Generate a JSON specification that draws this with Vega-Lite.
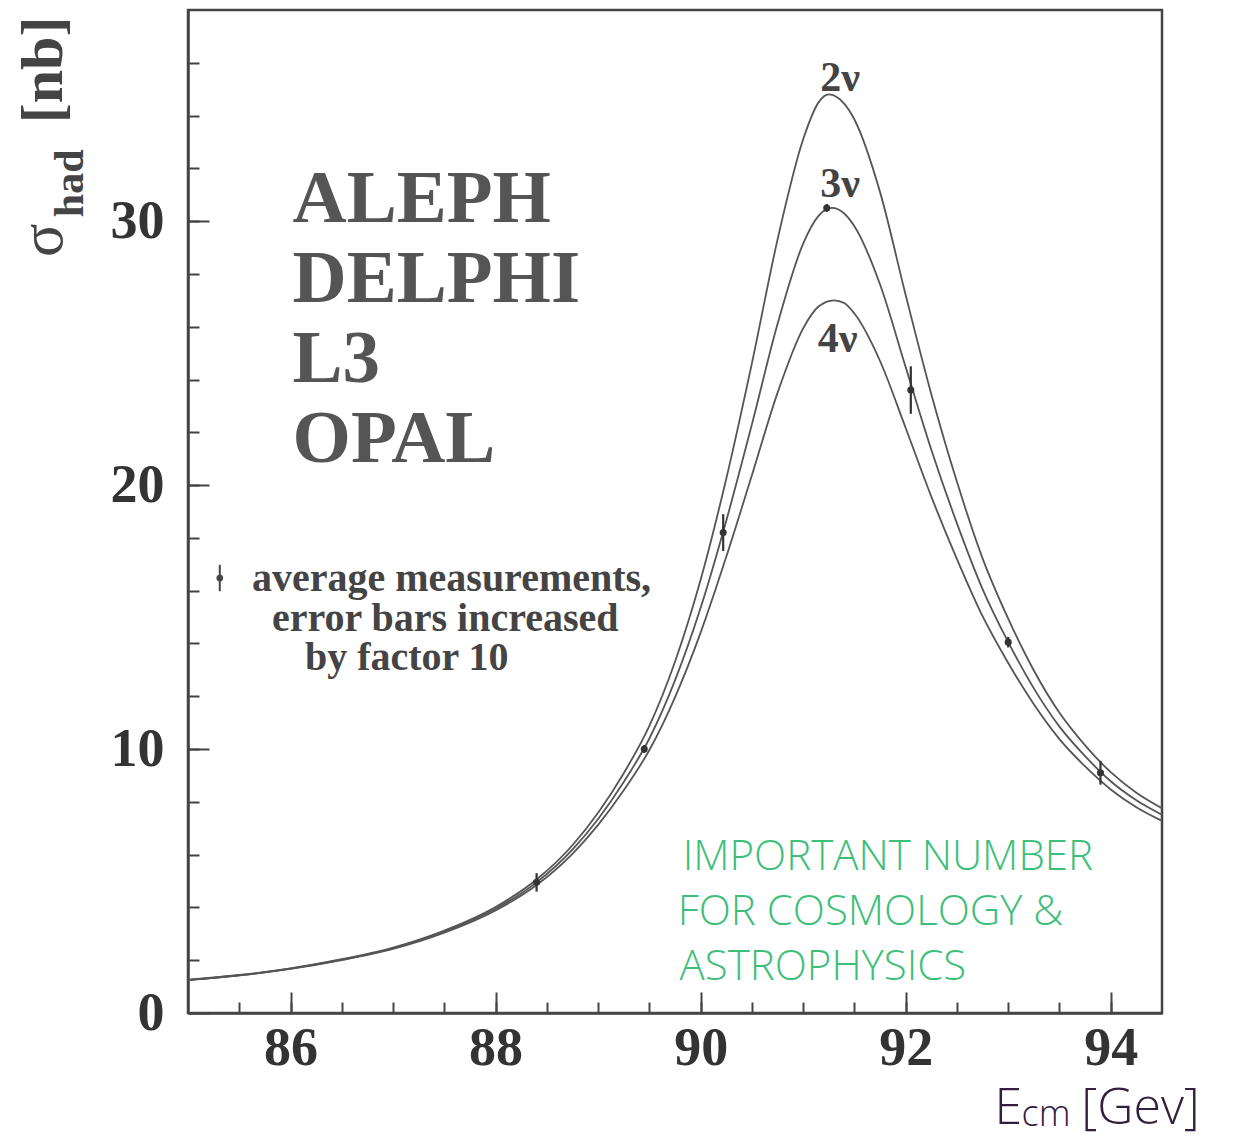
{
  "$schema": "https://vega.github.io/schema/vega-lite/v6.json",
  "width": 974,
  "height": 1003,
  "autosize": {"type": "none"},
  "padding": {"left": 188, "top": 10, "right": 86, "bottom": 126},
  "background": "white",
  "config": {
    "view": {"stroke": "#444", "strokeWidth": 2.5},
    "axis": {"grid": false, "title": null}
  },
  "datasets": {
    "curves": [
      {"E": 85, "s": 1.257, "n": "2ν"}, {"E": 85.5, "s": 1.439, "n": "2ν"}, {"E": 86, "s": 1.692, "n": "2ν"}, {"E": 86.5, "s": 2.037, "n": "2ν"},
      {"E": 87, "s": 2.476, "n": "2ν"}, {"E": 87.5, "s": 3.121, "n": "2ν"}, {"E": 88, "s": 4.017, "n": "2ν"}, {"E": 88.4, "s": 5.056, "n": "2ν"},
      {"E": 88.75, "s": 6.356, "n": "2ν"}, {"E": 89, "s": 7.585, "n": "2ν"}, {"E": 89.25, "s": 9.086, "n": "2ν"}, {"E": 89.5, "s": 10.877, "n": "2ν"},
      {"E": 89.75, "s": 13.307, "n": "2ν"}, {"E": 90, "s": 16.412, "n": "2ν"}, {"E": 90.25, "s": 20.242, "n": "2ν"}, {"E": 90.5, "s": 24.614, "n": "2ν"},
      {"E": 90.75, "s": 29.3, "n": "2ν"}, {"E": 91, "s": 33.1, "n": "2ν"}, {"E": 91.15, "s": 34.5, "n": "2ν"}, {"E": 91.25, "s": 34.8, "n": "2ν"},
      {"E": 91.4, "s": 34.45, "n": "2ν"}, {"E": 91.5, "s": 33.85, "n": "2ν"}, {"E": 91.75, "s": 31.1, "n": "2ν"}, {"E": 92, "s": 27.2, "n": "2ν"},
      {"E": 92.25, "s": 23.445, "n": "2ν"}, {"E": 92.5, "s": 20.124, "n": "2ν"}, {"E": 92.75, "s": 17.224, "n": "2ν"}, {"E": 93, "s": 14.938, "n": "2ν"},
      {"E": 93.25, "s": 12.978, "n": "2ν"}, {"E": 93.5, "s": 11.374, "n": "2ν"}, {"E": 93.75, "s": 10.142, "n": "2ν"}, {"E": 94, "s": 9.123, "n": "2ν"},
      {"E": 94.25, "s": 8.344, "n": "2ν"}, {"E": 94.5, "s": 7.756, "n": "2ν"},

      {"E": 85, "s": 1.25, "n": "3ν"}, {"E": 85.5, "s": 1.43, "n": "3ν"}, {"E": 86, "s": 1.68, "n": "3ν"}, {"E": 86.5, "s": 2.02, "n": "3ν"},
      {"E": 87, "s": 2.45, "n": "3ν"}, {"E": 87.5, "s": 3.08, "n": "3ν"}, {"E": 88, "s": 3.95, "n": "3ν"}, {"E": 88.4, "s": 4.95, "n": "3ν"},
      {"E": 88.75, "s": 6.19, "n": "3ν"}, {"E": 89, "s": 7.35, "n": "3ν"}, {"E": 89.25, "s": 8.75, "n": "3ν"}, {"E": 89.5, "s": 10.4, "n": "3ν"},
      {"E": 89.75, "s": 12.6, "n": "3ν"}, {"E": 90, "s": 15.35, "n": "3ν"}, {"E": 90.25, "s": 18.65, "n": "3ν"}, {"E": 90.5, "s": 22.3, "n": "3ν"},
      {"E": 90.75, "s": 26.1, "n": "3ν"}, {"E": 91, "s": 29.15, "n": "3ν"}, {"E": 91.15, "s": 30.2, "n": "3ν"}, {"E": 91.28, "s": 30.5, "n": "3ν"},
      {"E": 91.4, "s": 30.29, "n": "3ν"}, {"E": 91.5, "s": 29.81, "n": "3ν"}, {"E": 91.75, "s": 27.6, "n": "3ν"}, {"E": 92, "s": 24.47, "n": "3ν"},
      {"E": 92.25, "s": 21.34, "n": "3ν"}, {"E": 92.5, "s": 18.55, "n": "3ν"}, {"E": 92.75, "s": 16.06, "n": "3ν"}, {"E": 93, "s": 14.05, "n": "3ν"},
      {"E": 93.25, "s": 12.3, "n": "3ν"}, {"E": 93.5, "s": 10.85, "n": "3ν"}, {"E": 93.75, "s": 9.73, "n": "3ν"}, {"E": 94, "s": 8.78, "n": "3ν"},
      {"E": 94.25, "s": 8.06, "n": "3ν"}, {"E": 94.5, "s": 7.51, "n": "3ν"},

      {"E": 85, "s": 1.244, "n": "4ν"}, {"E": 85.5, "s": 1.422, "n": "4ν"}, {"E": 86, "s": 1.669, "n": "4ν"}, {"E": 86.5, "s": 2.003, "n": "4ν"},
      {"E": 87, "s": 2.425, "n": "4ν"}, {"E": 87.5, "s": 3.041, "n": "4ν"}, {"E": 88, "s": 3.886, "n": "4ν"}, {"E": 88.4, "s": 4.849, "n": "4ν"},
      {"E": 88.75, "s": 6.033, "n": "4ν"}, {"E": 89, "s": 7.128, "n": "4ν"}, {"E": 89.25, "s": 8.438, "n": "4ν"}, {"E": 89.5, "s": 9.962, "n": "4ν"},
      {"E": 89.75, "s": 11.962, "n": "4ν"}, {"E": 90, "s": 14.412, "n": "4ν"}, {"E": 90.25, "s": 17.282, "n": "4ν"}, {"E": 90.5, "s": 20.371, "n": "4ν"},
      {"E": 90.75, "s": 23.495, "n": "4ν"}, {"E": 91, "s": 25.937, "n": "4ν"}, {"E": 91.15, "s": 26.765, "n": "4ν"}, {"E": 91.3, "s": 27.0, "n": "4ν"},
      {"E": 91.4, "s": 26.9, "n": "4ν"}, {"E": 91.5, "s": 26.5, "n": "4ν"}, {"E": 91.75, "s": 24.702, "n": "4ν"}, {"E": 92, "s": 22.163, "n": "4ν"},
      {"E": 92.25, "s": 19.564, "n": "4ν"}, {"E": 92.5, "s": 17.196, "n": "4ν"}, {"E": 92.75, "s": 15.034, "n": "4ν"}, {"E": 93, "s": 13.263, "n": "4ν"},
      {"E": 93.25, "s": 11.695, "n": "4ν"}, {"E": 93.5, "s": 10.376, "n": "4ν"}, {"E": 93.75, "s": 9.341, "n": "4ν"}, {"E": 94, "s": 8.47, "n": "4ν"},
      {"E": 94.25, "s": 7.795, "n": "4ν"}, {"E": 94.5, "s": 7.279, "n": "4ν"}
    ],
    "meas": [
      {"E": 88.4, "s": 4.95, "lo": 4.6, "hi": 5.3},
      {"E": 89.45, "s": 10.0, "lo": 9.85, "hi": 10.15},
      {"E": 90.22, "s": 18.2, "lo": 17.5, "hi": 18.9},
      {"E": 91.23, "s": 30.5, "lo": 30.35, "hi": 30.65},
      {"E": 92.05, "s": 23.6, "lo": 22.7, "hi": 24.5},
      {"E": 93.0, "s": 14.05, "lo": 13.85, "hi": 14.25},
      {"E": 93.9, "s": 9.1, "lo": 8.65, "hi": 9.55}
    ],
    "legendsym": [{"E": 85.31, "s": 16.48, "lo": 15.98, "hi": 16.98}],
    "expts": [
      {"E": 86.02, "s": 29.96, "t": "ALEPH"},
      {"E": 86.02, "s": 26.93, "t": "DELPHI"},
      {"E": 86.02, "s": 23.9, "t": "L3"},
      {"E": 86.02, "s": 20.87, "t": "OPAL"}
    ],
    "legendtext": [
      {"E": 85.624, "s": 15.98, "t": "average measurements,"},
      {"E": 85.819, "s": 14.47, "t": "error bars increased"},
      {"E": 86.14, "s": 13.0, "t": "by factor 10"}
    ],
    "nulabels": [
      {"E": 91.36, "s": 34.95, "t": "2ν"},
      {"E": 91.36, "s": 30.9, "t": "3ν"},
      {"E": 91.335, "s": 25.04, "t": "4ν"}
    ],
    "note": [
      {"E": 89.825, "s": 5.42, "t": "IMPORTANT NUMBER"},
      {"E": 89.776, "s": 3.33, "t": "FOR COSMOLOGY &"},
      {"E": 89.795, "s": 1.25, "t": "ASTROPHYSICS"}
    ],
    "ytitle_sigma": [{"E": 83.772, "s": 28.64, "t": "σ"}],
    "ytitle_unit": [{"E": 83.772, "s": 33.71, "t": "[nb]"}],
    "ytitle_sub": [{"E": 83.977, "s": 30.15, "t": "had"}],
    "xtitle_e": [{"E": 92.866, "s": -4.2, "t": "E"}],
    "xtitle_unit": [{"E": 93.713, "s": -4.2, "t": "[Gev]"}],
    "xtitle_sub": [{"E": 93.13, "s": -4.3, "t": "cm"}]
  },
  "layer": [
    {
      "data": {"name": "curves"},
      "mark": {"type": "line", "interpolate": "monotone", "color": "#555", "strokeWidth": 1.8},
      "encoding": {
        "x": {"field": "E", "type": "quantitative", "scale": {"domain": [85, 94.5], "nice": false, "zero": false},
          "axis": {"orient": "bottom", "values": [86, 88, 90, 92, 94], "tickSize": -21, "tickWidth": 2, "tickColor": "#444",
            "domainColor": "#444", "domainWidth": 2.5, "labelFont": "Liberation Serif", "labelFontWeight": "bold",
            "labelFontSize": 54, "labelColor": "#333", "labelPadding": 29, "labelFlush": false, "labelOverlap": false}},
        "y": {"field": "s", "type": "quantitative", "scale": {"domain": [0, 38], "nice": false, "zero": false},
          "axis": {"orient": "left", "values": [0, 10, 20, 30], "tickSize": -21, "tickWidth": 2, "tickColor": "#444",
            "domainColor": "#444", "domainWidth": 2.5, "labelFont": "Liberation Serif", "labelFontWeight": "bold",
            "labelFontSize": 54, "labelColor": "#333", "labelPadding": 45, "labelFlush": false, "labelOverlap": false}},
        "detail": {"field": "n"}
      }
    },
    {
      "data": {"name": "meas"},
      "mark": {"type": "rule", "color": "#333", "strokeWidth": 2.2},
      "encoding": {
        "x": {"field": "E", "type": "quantitative", "scale": {"domain": [85, 94.5], "nice": false, "zero": false},
          "axis": {"orient": "bottom", "values": [85.5, 86, 86.5, 87, 87.5, 88, 88.5, 89, 89.5, 90, 90.5, 91, 91.5, 92, 92.5, 93, 93.5, 94],
            "tickSize": -11, "tickWidth": 2, "tickColor": "#444", "labels": false, "domain": false}},
        "y": {"field": "lo", "type": "quantitative", "scale": {"domain": [0, 38], "nice": false, "zero": false},
          "axis": {"orient": "left", "values": [2, 4, 6, 8, 10, 12, 14, 16, 18, 20, 22, 24, 26, 28, 30, 32, 34, 36],
            "tickSize": -11, "tickWidth": 2, "tickColor": "#444", "labels": false, "domain": false}},
        "y2": {"field": "hi"}
      }
    },
    {
      "data": {"name": "meas"},
      "mark": {"type": "point", "filled": true, "color": "#333", "size": 50, "opacity": 1},
      "encoding": {
        "x": {"field": "E", "type": "quantitative", "scale": {"domain": [85, 94.5], "nice": false, "zero": false}, "axis": null},
        "y": {"field": "s", "type": "quantitative", "scale": {"domain": [0, 38], "nice": false, "zero": false}, "axis": null}
      }
    },
    {
      "data": {"name": "legendsym"},
      "mark": {"type": "rule", "color": "#444", "strokeWidth": 2},
      "encoding": {
        "x": {"field": "E", "type": "quantitative", "scale": {"domain": [85, 94.5], "nice": false, "zero": false}, "axis": null},
        "y": {"field": "lo", "type": "quantitative", "scale": {"domain": [0, 38], "nice": false, "zero": false}, "axis": null},
        "y2": {"field": "hi"}
      }
    },
    {
      "data": {"name": "legendsym"},
      "mark": {"type": "point", "filled": true, "color": "#444", "size": 45, "opacity": 1},
      "encoding": {
        "x": {"field": "E", "type": "quantitative", "scale": {"domain": [85, 94.5], "nice": false, "zero": false}, "axis": null},
        "y": {"field": "s", "type": "quantitative", "scale": {"domain": [0, 38], "nice": false, "zero": false}, "axis": null}
      }
    },
    {
      "data": {"name": "expts"},
      "mark": {"type": "text", "align": "left", "baseline": "alphabetic", "font": "Liberation Serif", "fontWeight": "bold", "fontSize": 75, "color": "#555"},
      "encoding": {
        "x": {"field": "E", "type": "quantitative", "scale": {"domain": [85, 94.5], "nice": false, "zero": false}, "axis": null},
        "y": {"field": "s", "type": "quantitative", "scale": {"domain": [0, 38], "nice": false, "zero": false}, "axis": null},
        "text": {"field": "t"}
      }
    },
    {
      "data": {"name": "legendtext"},
      "mark": {"type": "text", "align": "left", "baseline": "alphabetic", "font": "Liberation Serif", "fontWeight": "bold", "fontSize": 40, "color": "#444"},
      "encoding": {
        "x": {"field": "E", "type": "quantitative", "scale": {"domain": [85, 94.5], "nice": false, "zero": false}, "axis": null},
        "y": {"field": "s", "type": "quantitative", "scale": {"domain": [0, 38], "nice": false, "zero": false}, "axis": null},
        "text": {"field": "t"}
      }
    },
    {
      "data": {"name": "nulabels"},
      "mark": {"type": "text", "align": "center", "baseline": "alphabetic", "font": "Liberation Serif", "fontWeight": "bold", "fontSize": 42, "color": "#444"},
      "encoding": {
        "x": {"field": "E", "type": "quantitative", "scale": {"domain": [85, 94.5], "nice": false, "zero": false}, "axis": null},
        "y": {"field": "s", "type": "quantitative", "scale": {"domain": [0, 38], "nice": false, "zero": false}, "axis": null},
        "text": {"field": "t"}
      }
    },
    {
      "data": {"name": "note"},
      "mark": {"type": "text", "align": "left", "baseline": "alphabetic", "font": "Open Sans", "fontWeight": 300, "fontSize": 42, "color": "#3dbf7a"},
      "encoding": {
        "x": {"field": "E", "type": "quantitative", "scale": {"domain": [85, 94.5], "nice": false, "zero": false}, "axis": null},
        "y": {"field": "s", "type": "quantitative", "scale": {"domain": [0, 38], "nice": false, "zero": false}, "axis": null},
        "text": {"field": "t"}
      }
    },
    {
      "data": {"name": "ytitle_sigma"},
      "mark": {"type": "text", "align": "left", "baseline": "alphabetic", "angle": 270, "font": "Liberation Serif", "fontWeight": "normal", "fontSize": 62, "color": "#444"},
      "encoding": {
        "x": {"field": "E", "type": "quantitative", "scale": {"domain": [85, 94.5], "nice": false, "zero": false}, "axis": null},
        "y": {"field": "s", "type": "quantitative", "scale": {"domain": [0, 38], "nice": false, "zero": false}, "axis": null},
        "text": {"field": "t"}
      }
    },
    {
      "data": {"name": "ytitle_unit"},
      "mark": {"type": "text", "align": "left", "baseline": "alphabetic", "angle": 270, "font": "Liberation Serif", "fontWeight": "bold", "fontSize": 60, "color": "#444"},
      "encoding": {
        "x": {"field": "E", "type": "quantitative", "scale": {"domain": [85, 94.5], "nice": false, "zero": false}, "axis": null},
        "y": {"field": "s", "type": "quantitative", "scale": {"domain": [0, 38], "nice": false, "zero": false}, "axis": null},
        "text": {"field": "t"}
      }
    },
    {
      "data": {"name": "ytitle_sub"},
      "mark": {"type": "text", "align": "left", "baseline": "alphabetic", "angle": 270, "font": "Liberation Serif", "fontWeight": "bold", "fontSize": 42, "color": "#444"},
      "encoding": {
        "x": {"field": "E", "type": "quantitative", "scale": {"domain": [85, 94.5], "nice": false, "zero": false}, "axis": null},
        "y": {"field": "s", "type": "quantitative", "scale": {"domain": [0, 38], "nice": false, "zero": false}, "axis": null},
        "text": {"field": "t"}
      }
    },
    {
      "data": {"name": "xtitle_e"},
      "mark": {"type": "text", "align": "left", "baseline": "alphabetic", "font": "Open Sans", "fontWeight": 300, "fontSize": 50, "color": "#33203f"},
      "encoding": {
        "x": {"field": "E", "type": "quantitative", "scale": {"domain": [85, 94.5], "nice": false, "zero": false}, "axis": null},
        "y": {"field": "s", "type": "quantitative", "scale": {"domain": [0, 38], "nice": false, "zero": false}, "axis": null},
        "text": {"field": "t"}
      }
    },
    {
      "data": {"name": "xtitle_unit"},
      "mark": {"type": "text", "align": "left", "baseline": "alphabetic", "font": "Open Sans", "fontWeight": 300, "fontSize": 50, "color": "#33203f"},
      "encoding": {
        "x": {"field": "E", "type": "quantitative", "scale": {"domain": [85, 94.5], "nice": false, "zero": false}, "axis": null},
        "y": {"field": "s", "type": "quantitative", "scale": {"domain": [0, 38], "nice": false, "zero": false}, "axis": null},
        "text": {"field": "t"}
      }
    },
    {
      "data": {"name": "xtitle_sub"},
      "mark": {"type": "text", "align": "left", "baseline": "alphabetic", "font": "Open Sans", "fontWeight": 300, "fontSize": 36, "color": "#33203f"},
      "encoding": {
        "x": {"field": "E", "type": "quantitative", "scale": {"domain": [85, 94.5], "nice": false, "zero": false}, "axis": null},
        "y": {"field": "s", "type": "quantitative", "scale": {"domain": [0, 38], "nice": false, "zero": false}, "axis": null},
        "text": {"field": "t"}
      }
    }
  ],
  "resolve": {"axis": {"x": "independent", "y": "independent"}}
}
